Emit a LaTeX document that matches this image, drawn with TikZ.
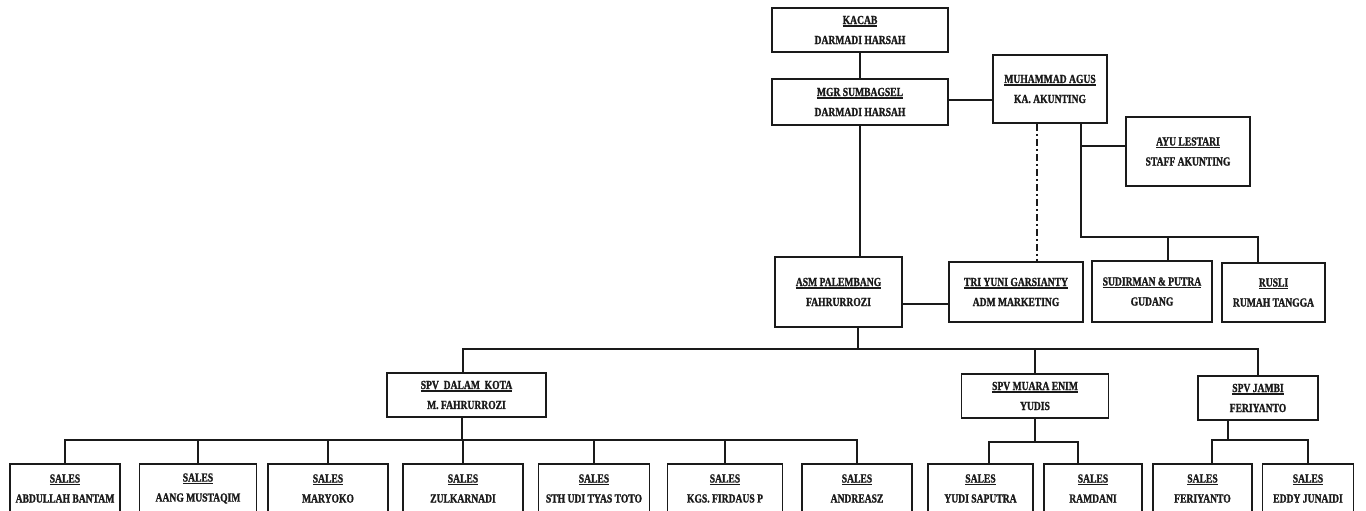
\documentclass[tikz,border=0pt]{standalone}
\usepackage{fontspec}
\setmainfont{Liberation Serif}[FakeStretch=0.78, BoldFeatures={FakeBold=1.2}]
\newcommand\uln[1]{\leavevmode\vtop{\hbox{#1}\kern1.2pt\hrule height 1.2pt}}
\definecolor{ink}{HTML}{1A1A1A}
\tikzset{
  box/.style={draw=ink, line width=1.8pt, inner sep=0pt, align=center, text=ink,
    font=\fontsize{12.3}{20}\selectfont\bfseries},
  conn/.style={draw=ink, line width=1.4pt},
  dashdot/.style={draw=ink, line width=1.1pt, dash pattern=on 7pt off 3pt on 2pt off 3pt}
}
\begin{document}
\begin{tikzpicture}[x=1pt,y=-1pt]
\useasboundingbox (0,0) rectangle (1366,511);
\clip (0,0) rectangle (1366,511);
\fill[white] (0,0) rectangle (1366,511);
% top
\node[box, minimum width=176pt, minimum height=44pt] (kacab) at (860,30) {\uln{KACAB}\\DARMADI HARSAH};
\node[box, minimum width=176pt, minimum height=46pt] (mgr) at (860,102) {\uln{MGR SUMBAGSEL}\\DARMADI HARSAH};
\node[box, minimum width=114pt, minimum height=68pt] (agus) at (1050,89) {\uln{MUHAMMAD AGUS}\\KA. AKUNTING};
\node[box, minimum width=124pt, minimum height=69pt] (ayu) at (1188,151.5) {\uln{AYU LESTARI}\\STAFF AKUNTING};
% middle
\node[box, minimum width=127pt, minimum height=70pt] (asm) at (838.5,292) {\uln{ASM PALEMBANG}\\FAHRURROZI};
\node[box, minimum width=134pt, minimum height=60pt] (tri) at (1016,292) {\uln{TRI YUNI GARSIANTY}\\ADM MARKETING};
\node[box, minimum width=120pt, minimum height=61pt] (sud) at (1152,291.5) {\uln{SUDIRMAN \& PUTRA}\\GUDANG};
\node[box, minimum width=103pt, minimum height=59pt] (rusli) at (1273.5,292.5) {\uln{RUSLI}\\RUMAH TANGGA};
% supervisors
\node[box, minimum width=159pt, minimum height=44pt] (spvdk) at (466.5,395) {\uln{SPV\ \ DALAM\ \ KOTA}\\M. FAHRURROZI};
\node[box, minimum width=147pt, minimum height=44pt] (spvme) at (1035,396) {\uln{SPV MUARA ENIM}\\YUDIS};
\node[box, minimum width=120pt, minimum height=44pt] (spvj) at (1258,398) {\uln{SPV JAMBI}\\FERIYANTO};
% sales
\tikzset{sales/.style={box, minimum height=49pt}}
\node[sales, minimum width=110pt] (s1) at (65,488.5) {\uln{SALES}\\ABDULLAH BANTAM};
\node[sales, minimum width=117pt] (s2) at (198,488.5) {\uln{SALES}\\AANG MUSTAQIM};
\node[sales, minimum width=120pt] (s3) at (328,488.5) {\uln{SALES}\\MARYOKO};
\node[sales, minimum width=120pt] (s4) at (463,488.5) {\uln{SALES}\\ZULKARNADI};
\node[sales, minimum width=111pt] (s5) at (594,488.5) {\uln{SALES}\\STH UDI TYAS TOTO};
\node[sales, minimum width=115pt] (s6) at (725,488.5) {\uln{SALES}\\KGS. FIRDAUS P};
\node[sales, minimum width=110pt] (s7) at (857,488.5) {\uln{SALES}\\ANDREASZ};
\node[sales, minimum width=105pt] (s8) at (980.5,488.5) {\uln{SALES}\\YUDI SAPUTRA};
\node[sales, minimum width=98pt] (s9) at (1093,488.5) {\uln{SALES}\\RAMDANI};
\node[sales, minimum width=99pt] (s10) at (1202.5,488.5) {\uln{SALES}\\FERIYANTO};
\node[sales, minimum width=91pt] (s11) at (1308,488.5) {\uln{SALES}\\EDDY JUNAIDI};

% junction coordinates
\coordinate (j1) at (1081,237);
\coordinate (bus2) at (0,349);
\coordinate (bus3) at (0,440);
\coordinate (bus4) at (0,442);

% connectors top
\draw[conn] (kacab.south) -- (mgr.north);
\draw[conn] ([yshift=2pt]mgr.east) -- ([yshift=2pt]mgr.east -| agus.west);
\draw[conn] (mgr.south) -- (mgr.south |- asm.north);
\draw[conn] ([yshift=-12pt]asm.east) -- ([yshift=-12pt]asm.east -| tri.west);
\draw[dashdot] ([xshift=-13pt]agus.south) -- ([xshift=-13pt]agus.south |- tri.north);
\coordinate (agr) at ([xshift=31pt]agus.south);
\coordinate (rut) at ([xshift=-15.5pt]rusli.north);
\coordinate (sut) at ([xshift=16pt]sud.north);
\draw[conn] (agr) -- (j1) -| (rut);
\draw[conn] (sut) -- (sut |- j1);
\coordinate (ayw) at ([yshift=5.5pt]ayu.west);
\draw[conn] (ayw) -- (ayw -| j1);

% ASM to supervisors
\coordinate (asb) at ([xshift=19.5pt]asm.south);
\draw[conn] (asb) -- (asb |- bus2);
\coordinate (dkt) at ([xshift=-3.5pt]spvdk.north);
\draw[conn] (dkt) |- (bus2 -| spvj.north) -- (spvj.north);
\draw[conn] (spvme.north) -- (spvme.north |- bus2);

% dalam kota sales
\coordinate (dkb) at ([xshift=-4.5pt]spvdk.south);
\draw[conn] (dkb) -- (dkb |- bus3);
\draw[conn] (s1.north) |- (bus3 -| s7.north) -- (s7.north);
\foreach \s in {s2,s3,s4,s5,s6} { \draw[conn] (\s.north) -- (\s.north |- bus3); }

% muara enim sales
\coordinate (s8t) at ([xshift=8.5pt]s8.north);
\coordinate (s9t) at ([xshift=-15pt]s9.north);
\draw[conn] (spvme.south) -- (spvme.south |- bus4);
\draw[conn] (s8t) |- (bus4 -| s9t) -- (s9t);

% jambi sales
\coordinate (jb) at ([xshift=-30pt]spvj.south);
\coordinate (s10t) at ([xshift=9.5pt]s10.north);
\draw[conn] (jb) -- (jb |- bus3);
\draw[conn] (s10t) |- (bus3 -| s11.north) -- (s11.north);
\end{tikzpicture}
\end{document}
